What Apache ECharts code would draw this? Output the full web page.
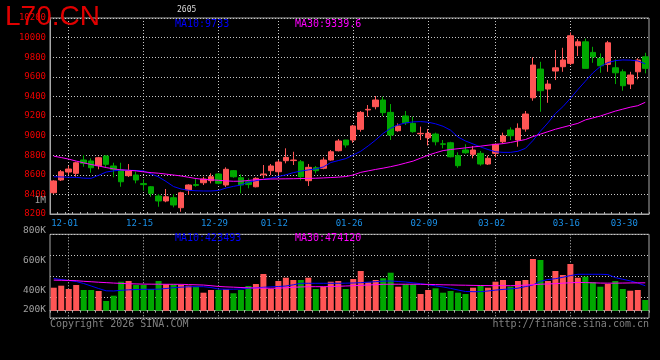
<!DOCTYPE html>
<html>
<head>
<meta charset="utf-8">
<script src="https://cdn.jsdelivr.net/npm/echarts@6/dist/echarts.min.js"></script>
<style>
html,body{margin:0;padding:0;background:#000;}
#c{width:660px;height:360px;}
</style>
</head>
<body>
<div id="c"></div>
<script>
const symbolName = 'L70.CN';
const contractTag = '2605';
const dates = ['11-27','11-28',
 '12-01','12-02','12-03','12-04','12-05','12-08','12-09','12-10','12-11','12-12',
 '12-15','12-16','12-17','12-18','12-19','12-22','12-23','12-24','12-25','12-26',
 '12-29','12-30','12-31',
 '01-05','01-06','01-07','01-08','01-09','01-12','01-13','01-14','01-15','01-16',
 '01-19','01-20','01-21','01-22','01-23','01-26','01-27','01-28','01-29','01-30',
 '02-02','02-03','02-04','02-05','02-06','02-09','02-10','02-11','02-12','02-13',
 '02-24','02-25','02-26','02-27',
 '03-02','03-03','03-04','03-05','03-06','03-09','03-10','03-11','03-12','03-13',
 '03-16','03-17','03-18','03-19','03-20','03-23','03-24','03-25','03-26','03-27','03-30'];
const tickLabels = ['12-01','12-15','12-29','01-12','01-26','02-09','03-02','03-16','03-30'];
const priceMin = 8200, priceMax = 10200, priceStep = 200;
const volLabelMin = 200000, volLabelMax = 1000000, volLabelStep = 200000;

const opens = [8417,8547,8628,8615,8751,8741,8693,8792,8690,8649,
 8591,8598,8510,8478,8384,8333,8366,8264,8445,8500,
 8519,8540,8608,8496,8642,8570,8529,8478,8600,8642,
 8631,8744,8745,8733,8540,8672,8666,8751,8846,8955,
 8955,9064,9262,9295,9363,9237,9050,9200,9125,9018,
 8978,9016,8916,8927,8795,8853,8809,8819,8710,8819,
 8937,9057,8955,9067,9386,9679,9475,9659,9703,9737,
 9917,9957,9849,9788,9727,9692,9651,9526,9651,9804];
const closes = [8537,8631,8659,8723,8717,8672,8774,8707,8656,8529,
 8639,8547,8500,8411,8333,8376,8292,8417,8496,8492,
 8557,8580,8513,8656,8580,8496,8500,8564,8608,8690,
 8730,8778,8751,8580,8676,8642,8751,8835,8945,8904,
 9098,9237,9268,9363,9234,9006,9098,9131,9040,9023,
 9023,8937,8911,8784,8693,8825,8853,8710,8768,8911,
 8996,8999,9074,9220,9720,9458,9526,9692,9771,10019,
 9957,9686,9804,9713,9947,9641,9509,9618,9771,9686];
const lows = [8405,8537,8598,8580,8682,8621,8656,8680,8574,8478,
 8578,8513,8438,8376,8274,8320,8268,8223,8394,8478,
 8496,8513,8503,8476,8570,8411,8462,8472,8564,8598,
 8598,8717,8700,8543,8486,8615,8656,8744,8839,8877,
 8927,9040,9193,9268,9200,8955,9040,9108,9030,8955,
 8900,8900,8870,8778,8672,8815,8768,8693,8700,8778,
 8921,8955,8887,9040,9356,9243,9335,9567,9651,9720,
 9812,9686,9743,9641,9651,9526,9458,9475,9574,9635];
const highs = [8545,8649,8690,8733,8802,8768,8784,8798,8723,8723,
 8710,8632,8554,8485,8404,8455,8404,8427,8503,8557,
 8580,8615,8618,8676,8649,8605,8564,8574,8700,8710,
 8751,8870,8835,8751,8710,8690,8778,8853,8965,8955,
 9108,9251,9312,9404,9397,9322,9125,9251,9193,9091,
 9067,9030,8955,8937,8829,8911,8894,8843,8795,8921,
 9030,9084,9125,9251,9798,9753,9567,9873,9896,10053,
 9985,9990,9906,9839,9967,9778,9676,9651,9788,9845];
const ma10 = [8580,8578,8575,8574,8566,8564,8595,8628,8640,8649,
 8646,8644,8640,8610,8578,8532,8480,8455,8442,8437,
 8435,8435,8440,8465,8482,8496,8525,8540,8554,8566,
 8582,8600,8622,8638,8650,8660,8680,8725,8745,8765,
 8802,8840,8895,8955,9023,9075,9110,9130,9140,9143,
 9137,9120,9095,9055,8985,8945,8915,8884,8858,8835,
 8829,8829,8840,8870,8950,9045,9130,9225,9295,9380,
 9470,9555,9640,9705,9745,9765,9772,9770,9762,9733];
const ma30 = [8790,8776,8760,8740,8722,8705,8690,8674,8660,8650,
 8646,8640,8630,8622,8616,8607,8598,8588,8575,8562,
 8553,8549,8544,8538,8534,8535,8542,8550,8553,8557,
 8558,8559,8560,8562,8563,8565,8568,8572,8576,8582,
 8598,8625,8640,8655,8668,8683,8700,8720,8740,8770,
 8800,8825,8847,8858,8866,8875,8884,8892,8902,8910,
 8918,8930,8945,8960,8990,9015,9040,9065,9085,9105,
 9125,9160,9180,9200,9225,9250,9270,9290,9305,9339.6];
const volumes = [391000,425000,369000,437000,352000,352000,335000,165000,255000,493000,
 505000,437000,437000,369000,505000,449000,449000,437000,425000,408000,
 306000,352000,352000,364000,296000,352000,420000,454000,624000,369000,
 505000,561000,522000,522000,561000,369000,408000,493000,505000,369000,
 539000,675000,483000,522000,551000,646000,408000,449000,449000,284000,
 352000,381000,306000,335000,306000,284000,391000,425000,391000,493000,
 522000,408000,505000,522000,879000,862000,505000,675000,607000,794000,
 561000,578000,483000,408000,454000,505000,369000,340000,352000,182000];
const volMa10 = [546000,530000,513000,496000,462000,420000,377000,338000,335000,347000,
 355000,360000,364000,364000,366000,377000,391000,400000,406000,408000,
 408000,394000,369000,364000,366000,369000,381000,389000,398000,406000,
 411000,420000,440000,466000,466000,466000,466000,466000,466000,468000,
 471000,476000,485000,493000,502000,505000,496000,488000,474000,459000,
 442000,422000,403000,379000,352000,326000,323000,323000,335000,350000,
 362000,371000,383000,410000,437000,500000,530000,544000,568000,597000,
 619000,619000,619000,619000,615000,563000,534000,507000,471000,423493];
const volMa30 = [520000,517000,514000,510000,500000,492000,484000,477000,470000,464000,
 459000,455000,452000,451000,450000,449000,449000,448000,444000,440000,
 436000,425000,412000,405000,400000,394000,390000,386000,383000,381000,
 383000,390000,398000,404000,408000,408000,408000,410000,415000,420000,
 425000,430000,437000,443000,449000,450000,450000,450000,450000,449000,
 447000,444000,440000,438000,435000,433000,430000,428000,427000,425000,
 425000,425000,428000,435000,442000,450000,455000,460000,468000,475000,
 480000,478000,474000,470000,468000,468000,470000,472000,473000,474120];

const UP = '#ff5555', DOWN = '#00a800';
const MONO = 'DejaVu Sans Mono';
const BORDER = '#a8a8a8';
const GRIDLINE = '#c8c8c8';
const lastLabel = tickLabels[tickLabels.length - 1];

const candleData = opens.map((o, i) => [o, closes[i], lows[i], highs[i]]);
const volData = volumes.map((v, i) => ({
  value: v,
  itemStyle: { color: closes[i] >= opens[i] ? UP : DOWN }
}));

const splitX = {
  show: true,
  alignWithLabel: true,
  interval: (i, v) => tickLabels.includes(v) && v !== lastLabel,
  lineStyle: { color: GRIDLINE, type: [1, 2], width: 1 }
};

const chart = echarts.init(document.getElementById('c'), null, { renderer: 'canvas' });
chart.setOption({
  animation: false,
  backgroundColor: '#000',
  grid: [
    { left: 50, top: 18, width: 599, height: 196, show: true, borderColor: BORDER, borderWidth: 1, containLabel: false },
    { left: 50, top: 234.3, width: 599, height: 83.7, show: true, borderColor: BORDER, borderWidth: 1 },
    { left: 50, top: 201, width: 599, height: 120, show: false }
  ],
  xAxis: [
    {
      type: 'category', gridIndex: 0, data: dates, boundaryGap: true,
      axisLine: { show: true, lineStyle: { color: BORDER } },
      axisTick: { show: true, inside: true, length: 2, interval: 0, lineStyle: { color: BORDER } },
      axisLabel: {
        interval: (i, v) => tickLabels.includes(v),
        formatter: v => v === lastLabel ? '{e|' + v + '}' : v,
        rich: { e: { padding: [0, 34, 0, 0], color: '#1a8fe6', fontFamily: MONO, fontSize: 9 } },
        padding: [0, 8, 0, 0],
        color: '#1a8fe6', fontFamily: MONO, fontSize: 9, margin: 5
      },
      splitLine: splitX
    },
    {
      type: 'category', gridIndex: 1, data: dates, boundaryGap: true, position: 'top',
      axisLine: { show: true, lineStyle: { color: BORDER } },
      axisTick: { show: true, inside: true, length: 2, interval: 0, lineStyle: { color: BORDER } },
      axisLabel: { show: false },
      splitLine: splitX
    },
    { type: 'category', gridIndex: 2, data: dates, show: false }
  ],
  yAxis: [
    {
      type: 'value', gridIndex: 0, min: priceMin, max: priceMax, interval: priceStep,
      axisLine: { show: true, lineStyle: { color: BORDER } },
      axisTick: { show: false },
      axisLabel: { color: '#ee0000', fontFamily: MONO, fontSize: 9, margin: 4, formatter: v => String(v) },
      splitLine: { show: true, lineStyle: { color: GRIDLINE, type: [1, 2], width: 1 } }
    },
    {
      type: 'value', gridIndex: 1, min: -124100, max: 1298800, show: false
    },
    {
      type: 'value', gridIndex: 1, min: 0, max: 4, interval: 1, position: 'right',
      axisLine: { show: false }, axisTick: { show: false }, axisLabel: { show: false },
      splitLine: { show: true, lineStyle: { color: GRIDLINE, type: [1, 2], width: 1 } }
    },
    {
      type: 'value', gridIndex: 2, min: volLabelMin, max: volLabelMax, interval: volLabelStep,
      axisLine: { show: false }, axisTick: { show: false }, splitLine: { show: false },
      axisLabel: {
        color: '#a0a0a0', fontFamily: MONO, fontSize: 9.5, margin: 4,
        showMinLabel: true, showMaxLabel: true, hideOverlap: false,
        formatter: v => v >= 1000000 ? (v / 1000000) + 'M' : (v === volLabelMin ? '{b|' + (v / 1000) + 'K}' : (v / 1000) + 'K'),
        rich: { b: { padding: [0, 0, 22, 0], color: '#a0a0a0', fontFamily: MONO, fontSize: 9.5 } }
      }
    }
  ],
  series: [
    {
      type: 'candlestick', xAxisIndex: 0, yAxisIndex: 0, data: candleData,
      barWidth: 6,
      itemStyle: { color: UP, color0: DOWN, borderColor: UP, borderColor0: DOWN, borderWidth: 1 }
    },
    { type: 'line', xAxisIndex: 0, yAxisIndex: 0, data: ma10, symbol: 'none', lineStyle: { color: '#0000ff', width: 1 } },
    { type: 'line', xAxisIndex: 0, yAxisIndex: 0, data: ma30, symbol: 'none', lineStyle: { color: '#ff00ff', width: 1 } },
    { type: 'bar', xAxisIndex: 1, yAxisIndex: 1, data: volData, barWidth: 6 },
    { type: 'line', xAxisIndex: 1, yAxisIndex: 1, data: volMa10, symbol: 'none', lineStyle: { color: '#0000ff', width: 1 } },
    { type: 'line', xAxisIndex: 1, yAxisIndex: 1, data: volMa30, symbol: 'none', lineStyle: { color: '#ff00ff', width: 1 } }
  ],
  graphic: [
    { type: 'text', left: 5, top: 3, z: 100, style: { text: symbolName, fill: '#e00000', font: '28px "Liberation Sans"' } },
    { type: 'text', x: 177, y: 6, z: 100, style: { text: contractTag, fill: '#d8d8d8', font: '8px ' + MONO } },
    { type: 'text', x: 175, y: 19, z: 100, style: { text: 'MA10:' + ma10[ma10.length - 1], fill: '#0000ff', font: '10px ' + MONO } },
    { type: 'text', x: 295, y: 19, z: 100, style: { text: 'MA30:' + ma30[ma30.length - 1], fill: '#ff00ff', font: '10px ' + MONO } },
    { type: 'text', x: 175, y: 233, z: 100, style: { text: 'MA10:' + volMa10[volMa10.length - 1], fill: '#0000ff', font: '10px ' + MONO } },
    { type: 'text', x: 295, y: 233, z: 100, style: { text: 'MA30:' + volMa30[volMa30.length - 1], fill: '#ff00ff', font: '10px ' + MONO } },
    { type: 'text', x: 50, y: 319, z: 100, style: { text: 'Copyright 2026 SINA.COM', fill: '#808080', font: '10px ' + MONO } },
    { type: 'text', right: 11, top: 319, z: 100, style: { text: 'http://finance.sina.com.cn', fill: '#808080', font: '10px ' + MONO } }
  ]
});
</script>
</body>
</html>
